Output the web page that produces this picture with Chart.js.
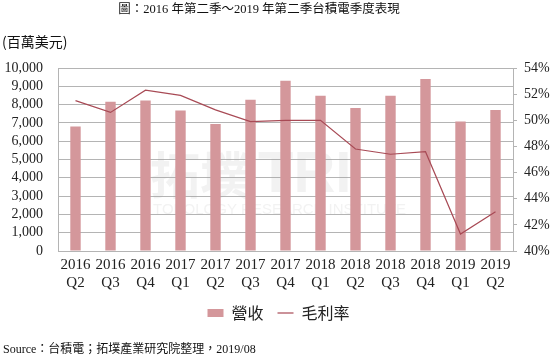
<!DOCTYPE html>
<html>
<head>
<meta charset="utf-8">
<script src="https://cdn.jsdelivr.net/npm/chart.js@4"></script>
<style>
  html, body { margin: 0; padding: 0; background: #ffffff; }
  #wrap { width: 557px; height: 358px; position: relative; }
</style>
</head>
<body>
<div id="wrap"><canvas id="c" width="557" height="358"></canvas></div>
<script>
const categories = [
  ['2016', 'Q2'], ['2016', 'Q3'], ['2016', 'Q4'],
  ['2017', 'Q1'], ['2017', 'Q2'], ['2017', 'Q3'], ['2017', 'Q4'],
  ['2018', 'Q1'], ['2018', 'Q2'], ['2018', 'Q3'], ['2018', 'Q4'],
  ['2019', 'Q1'], ['2019', 'Q2']
];
const revenue = [6810, 8150, 8230, 7680, 6940, 8260, 9300, 8480, 7820, 8480, 9400, 7070, 7710];
const grossMargin = [51.5, 50.6, 52.3, 51.9, 50.8, 49.9, 50.0, 50.0, 47.8, 47.4, 47.6, 41.3, 43.0];
const seriesNames = ['營收', '毛利率'];
const titleText = '圖：2016 年第二季～2019 年第二季台積電季度表現';
const unitText = '(百萬美元)';
const sourceText = 'Source：台積電；拓墣產業研究院整理，2019/08';

const SERIF = "'Liberation Serif', 'Noto Sans CJK TC', serif";
const SANS = "'Noto Sans CJK TC', 'Noto Sans', sans-serif";
const GRID = '#b4b4b4';

const textPlugin = {
  id: 'texts',
  beforeDatasetsDraw(chart) {
    const ctx = chart.ctx;
    ctx.save();
    // watermark
    ctx.fillStyle = 'rgba(160,160,160,0.14)';
    ctx.font = "bold 50px 'Noto Sans CJK TC'";
    ctx.textBaseline = 'alphabetic';
    ctx.textAlign = 'left';
    ctx.fillText('拓墣', 150, 194);
    ctx.font = "bold 58px 'Liberation Sans'";
    ctx.fillText('TRI', 258, 192);
    ctx.font = "15px 'Liberation Sans'";
    ctx.fillText('TOPOLOGY RESEARCH INSTITUTE', 153, 214);
    ctx.restore();
  },
  afterDraw(chart) {
    const ctx = chart.ctx;
    ctx.save();
    ctx.fillStyle = '#111111';
    ctx.textBaseline = 'middle';
    ctx.textAlign = 'center';
    ctx.font = "12.5px " + SERIF;
    ctx.fillText(titleText, 259, 10);
    ctx.textAlign = 'left';
    ctx.font = "14px " + SANS;
    ctx.fillText(unitText, 2, 42);
    ctx.font = "12px " + SERIF;
    ctx.fillText(sourceText, 3, 350);
    ctx.restore();
  }
};

new Chart(document.getElementById('c'), {
  data: {
    labels: categories,
    datasets: [
      {
        type: 'line',
        label: seriesNames[1],
        data: grossMargin,
        yAxisID: 'y1',
        borderColor: '#a84a55',
        backgroundColor: '#a84a55',
        borderWidth: 1.2,
        pointRadius: 0,
        tension: 0,
        order: 0
      },
      {
        type: 'bar',
        label: seriesNames[0],
        data: revenue,
        yAxisID: 'y',
        backgroundColor: '#d4979b',
        borderWidth: 0,
        barPercentage: 0.9,
        categoryPercentage: 0.33,
        order: 1
      }
    ]
  },
  options: {
    responsive: false,
    animation: false,
    devicePixelRatio: 1,
    layout: { padding: { top: 68, bottom: 27, left: 0, right: 0 } },
    plugins: {
      title: { display: false },
      tooltip: { enabled: false },
      legend: {
        position: 'bottom',
        reverse: true,
        labels: {
          font: { family: SANS, size: 16 },
          color: '#222222',
          usePointStyle: true,
          pointStyleWidth: 16,
          boxHeight: 8,
          padding: 14,
          generateLabels(chart) {
            return chart.data.datasets.map((ds, i) => ({
              text: ds.label,
              datasetIndex: i,
              fillStyle: ds.type === 'bar' ? ds.backgroundColor : 'rgba(0,0,0,0)',
              strokeStyle: ds.type === 'bar' ? ds.backgroundColor : ds.borderColor,
              lineWidth: ds.type === 'bar' ? 0 : 1.2,
              pointStyle: ds.type === 'bar' ? 'rect' : 'line',
              fontColor: '#222222',
              hidden: false
            }));
          }
        }
      }
    },
    scales: {
      x: {
        offset: true,
        grid: { display: false, drawTicks: false },
        border: { display: true, color: GRID },
        ticks: { font: { family: SERIF, size: 15 }, color: '#222222', padding: 5, maxRotation: 0, autoSkip: false },
        afterFit(s) { s.height = 40; }
      },
      y: {
        position: 'left',
        min: 0, max: 10000,
        ticks: {
          stepSize: 1000,
          autoSkip: false,
          font: { family: SERIF, size: 14 },
          color: '#222222',
          padding: 15,
          callback: v => v.toLocaleString('en-US')
        },
        grid: { color: GRID, drawTicks: false, lineWidth: 1 },
        border: { display: true, color: GRID },
        afterFit(s) { s.width = 58; }
      },
      y1: {
        position: 'right',
        min: 40, max: 54,
        ticks: {
          stepSize: 2,
          autoSkip: false,
          font: { family: SERIF, size: 14 },
          color: '#222222',
          padding: 7,
          callback: v => v + '%'
        },
        grid: { drawOnChartArea: false, drawTicks: true, tickLength: 4, color: GRID },
        border: { display: true, color: GRID },
        afterFit(s) { s.width = 44; }
      }
    }
  },
  plugins: [textPlugin]
});
</script>
</body>
</html>
